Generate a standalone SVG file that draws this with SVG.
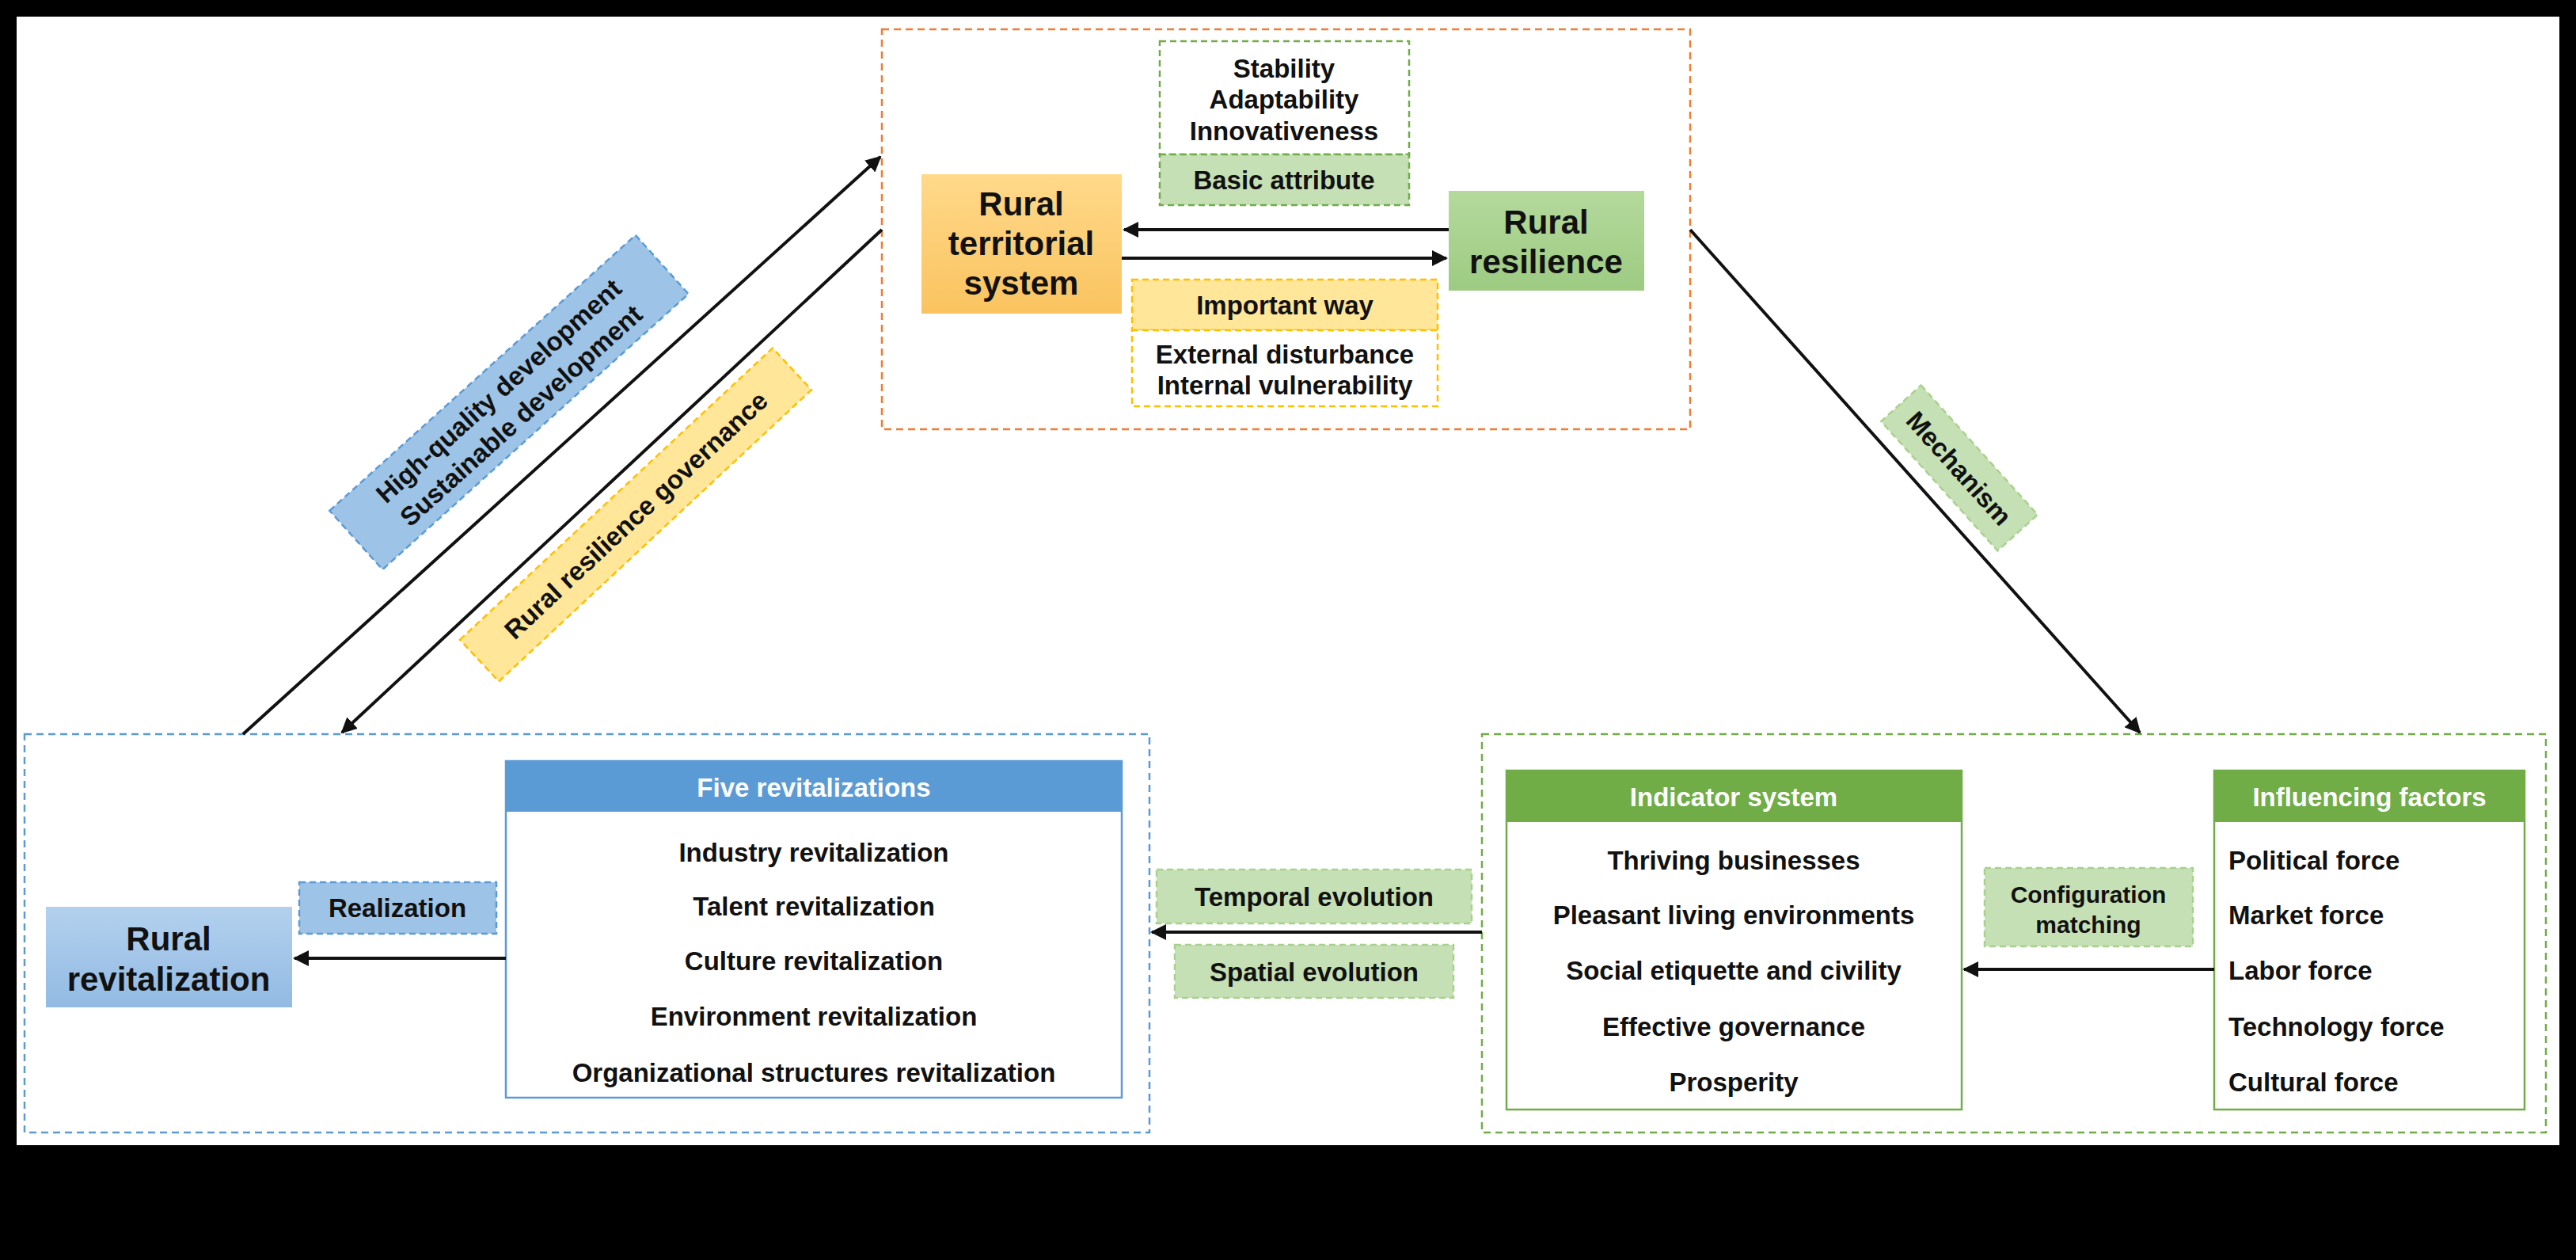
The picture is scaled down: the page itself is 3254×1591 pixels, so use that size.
<svg xmlns="http://www.w3.org/2000/svg" width="3254" height="1591" viewBox="0 0 3254 1591">
<style>
text{font-family:"Liberation Sans",Arial,sans-serif;font-weight:bold;fill:#111;text-anchor:middle}
text.st{text-anchor:start}
.big{font-size:42px}.it{font-size:33px}.hd{font-size:33px;fill:#fff}.lb{font-size:33px}
.conn line{stroke:#111;stroke-width:4}
</style>
<defs>
<marker id="ah" viewBox="0 0 10 10" refX="9" refY="5" markerWidth="5" markerHeight="5" orient="auto"><path d="M0,0L10,5L0,10z" fill="#111"/></marker>
<linearGradient id="og" x1="0" y1="0" x2="0" y2="1"><stop offset="0" stop-color="#FFD98A"/><stop offset="1" stop-color="#FAC35F"/></linearGradient>
<linearGradient id="gg" x1="0" y1="0" x2="0" y2="1"><stop offset="0" stop-color="#B4D99C"/><stop offset="1" stop-color="#9DCB82"/></linearGradient>
<linearGradient id="bg" x1="0" y1="0" x2="0" y2="1"><stop offset="0" stop-color="#B3D1EE"/><stop offset="1" stop-color="#92BAE3"/></linearGradient>
</defs>
<rect width="3254" height="1591" fill="#000"/>
<rect x="21" y="21" width="3212" height="1425" fill="#fff"/>
<g id="top-frame"><rect x="1114" y="37" width="1021" height="505" fill="none" stroke="#ED7D31" stroke-width="2.5" stroke-dasharray="9,6"/></g>
<g id="left-frame"><rect x="31" y="927" width="1421" height="503" fill="none" stroke="#5B9BD5" stroke-width="2.5" stroke-dasharray="9,6"/></g>
<g id="right-frame"><rect x="1872" y="927" width="1344" height="503" fill="none" stroke="#70AD47" stroke-width="2.5" stroke-dasharray="9,6"/></g>
<g id="basic-attribute">
<rect x="1465" y="52" width="315" height="143" fill="#fff" stroke="#70AD47" stroke-width="2.5" stroke-dasharray="8,5"/>
<text class="it" x="1622" y="98">Stability</text><text class="it" x="1622" y="137">Adaptability</text><text class="it" x="1622" y="177">Innovativeness</text>
<rect x="1465" y="195" width="315" height="64" fill="#C5E0B4" stroke="#70AD47" stroke-width="2.5" stroke-dasharray="8,5"/>
<text class="lb" x="1622" y="239" font-size="36">Basic attribute</text></g>
<g id="territorial"><rect x="1164" y="220" width="253" height="176" fill="url(#og)"/>
<text class="big" x="1290" y="272">Rural</text><text class="big" x="1290" y="322">territorial</text><text class="big" x="1290" y="372">system</text></g>
<g id="resilience"><rect x="1830" y="241" width="247" height="126" fill="url(#gg)"/>
<text class="big" x="1953" y="295">Rural</text><text class="big" x="1953" y="345">resilience</text></g>
<g id="important-way">
<rect x="1430" y="353" width="386" height="64" fill="#FFE699" stroke="#FFC000" stroke-width="2.5" stroke-dasharray="8,5"/>
<text class="lb" x="1623" y="397" font-size="36">Important way</text>
<rect x="1430" y="417" width="386" height="96" fill="#fff" stroke="#FFC000" stroke-width="2.5" stroke-dasharray="8,5"/>
<text class="it" x="1623" y="459">External disturbance</text><text class="it" x="1623" y="498">Internal vulnerability</text></g>
<g id="five-revitalizations">
<rect x="639" y="961" width="778" height="425" fill="#fff" stroke="#5B9BD5" stroke-width="2.5"/>
<rect x="639" y="961" width="778" height="64" fill="#5B9BD5"/>
<text class="hd" x="1028" y="1006">Five revitalizations</text>
<text class="it" x="1028" y="1088">Industry revitalization</text><text class="it" x="1028" y="1156">Talent revitalization</text><text class="it" x="1028" y="1225">Culture revitalization</text><text class="it" x="1028" y="1295">Environment revitalization</text><text class="it" x="1028" y="1366">Organizational structures revitalization</text></g>
<g id="rural-revitalization"><rect x="58" y="1145" width="311" height="127" fill="url(#bg)"/>
<text class="big" x="213" y="1200">Rural</text><text class="big" x="213" y="1251">revitalization</text></g>
<g id="realization"><rect x="378" y="1114" width="249" height="65" fill="#9DC3E6" stroke="#5B9BD5" stroke-width="2.5" stroke-dasharray="8,5"/><text class="lb" x="502" y="1158">Realization</text></g>
<g id="indicator-system">
<rect x="1903" y="973" width="575" height="428" fill="#fff" stroke="#70AD47" stroke-width="2.5"/>
<rect x="1903" y="973" width="575" height="65" fill="#70AD47"/>
<text class="hd" x="2190" y="1018">Indicator system</text>
<text class="it" x="2190" y="1098">Thriving businesses</text><text class="it" x="2190" y="1167">Pleasant living environments</text><text class="it" x="2190" y="1237">Social etiquette and civility</text><text class="it" x="2190" y="1308">Effective governance</text><text class="it" x="2190" y="1378">Prosperity</text></g>
<g id="influencing-factors">
<rect x="2797" y="973" width="392" height="428" fill="#fff" stroke="#70AD47" stroke-width="2.5"/>
<rect x="2797" y="973" width="392" height="65" fill="#70AD47"/>
<text class="hd" x="2993" y="1018">Influencing factors</text>
<text class="it st" x="2815" y="1098">Political force</text><text class="it st" x="2815" y="1167">Market force</text><text class="it st" x="2815" y="1237">Labor force</text><text class="it st" x="2815" y="1308">Technology force</text><text class="it st" x="2815" y="1378">Cultural force</text></g>
<g id="configuration-matching"><rect x="2507" y="1096" width="263" height="99" fill="#C5E0B4" stroke="#A9D18E" stroke-width="2.5" stroke-dasharray="8,5"/>
<text x="2638" y="1140" font-size="30">Configuration</text><text x="2638" y="1178" font-size="30">matching</text></g>
<g id="temporal-evolution"><rect x="1461" y="1098" width="398" height="68" fill="#C5E0B4" stroke="#A9D18E" stroke-width="2.5" stroke-dasharray="8,5"/><text class="lb" x="1660" y="1144">Temporal evolution</text></g>
<g id="spatial-evolution"><rect x="1484" y="1193" width="352" height="67" fill="#C5E0B4" stroke="#A9D18E" stroke-width="2.5" stroke-dasharray="8,5"/><text class="lb" x="1660" y="1239">Spatial evolution</text></g>
<g id="label-highquality" transform="translate(643,508) rotate(-42)"><rect x="-260" y="-50" width="520" height="100" fill="#9DC3E6" stroke="#5B9BD5" stroke-width="2.5" stroke-dasharray="8,5"/>
<text class="lb" x="0" y="-8">High-quality development</text><text class="lb" x="0" y="34">Sustainable development</text></g>
<g id="label-governance" transform="translate(803,650) rotate(-43)"><rect x="-270" y="-36" width="540" height="72" fill="#FFE699" stroke="#FFC000" stroke-width="2.5" stroke-dasharray="8,5"/>
<text class="lb" x="0" y="12">Rural resilience governance</text></g>
<g id="label-mechanism" transform="translate(2475,591) rotate(48)"><rect x="-110" y="-34" width="220" height="68" fill="#C5E0B4" stroke="#A9D18E" stroke-width="2.5" stroke-dasharray="8,5"/>
<text class="lb" x="0" y="12">Mechanism</text></g>
<g id="connectors" class="conn">
<line x1="1830" y1="290" x2="1420" y2="290" marker-end="url(#ah)"/>
<line x1="1417" y1="326" x2="1827" y2="326" marker-end="url(#ah)"/>
<line x1="307" y1="927" x2="1112" y2="198" marker-end="url(#ah)"/>
<line x1="1114" y1="290" x2="432" y2="925" marker-end="url(#ah)"/>
<line x1="2135" y1="290" x2="2703" y2="925" marker-end="url(#ah)"/>
<line x1="639" y1="1210" x2="372" y2="1210" marker-end="url(#ah)"/>
<line x1="1872" y1="1177" x2="1455" y2="1177" marker-end="url(#ah)"/>
<line x1="2797" y1="1224" x2="2481" y2="1224" marker-end="url(#ah)"/>
</g>
</svg>
